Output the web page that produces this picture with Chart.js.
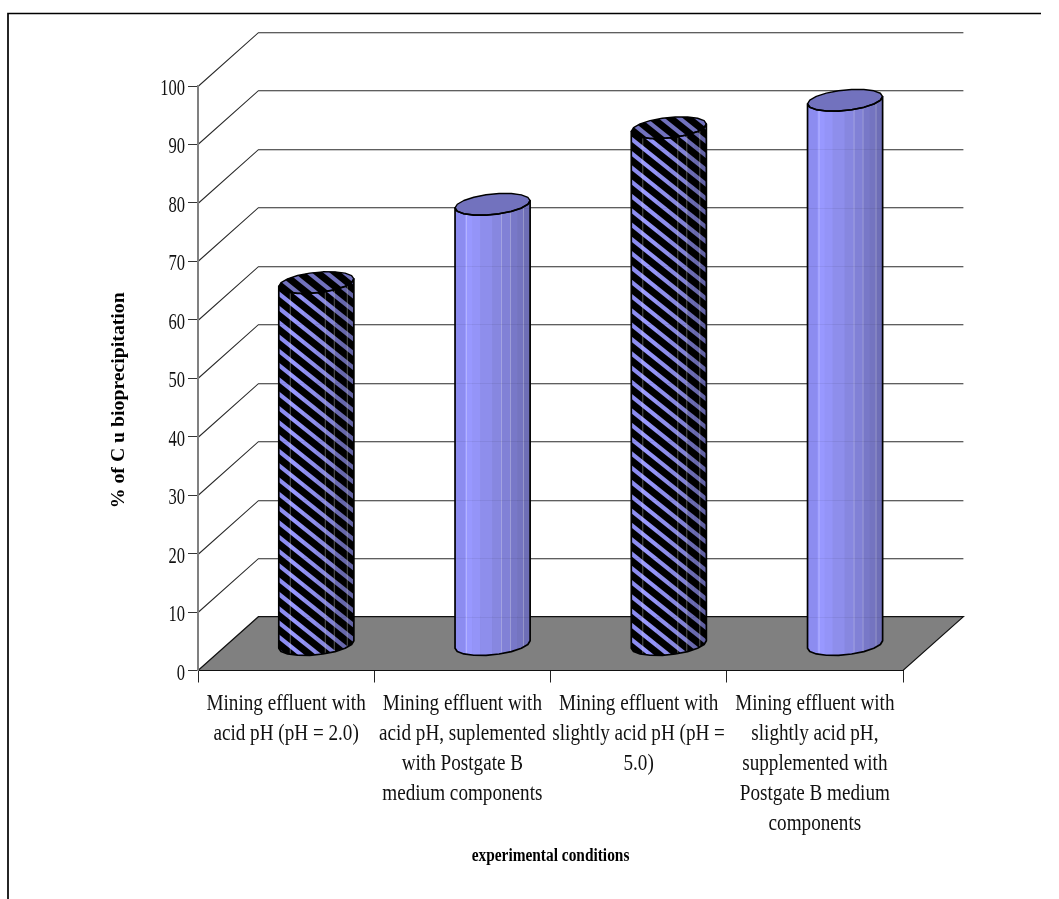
<!DOCTYPE html>
<html>
<head>
<meta charset="utf-8">
<title>Cu bioprecipitation</title>
<script src="https://cdn.jsdelivr.net/npm/chart.js@4"></script>
<style>
html,body{margin:0;padding:0;background:#fff}
canvas{display:block}
</style>
</head>
<body>
<canvas id="chart" width="1059" height="899"></canvas>
<script>
// Experimental conditions and the percentage of copper removed under each
const categories = [
  ["Mining effluent with", "acid pH (pH = 2.0)"],
  ["Mining effluent with", "acid pH, suplemented", "with Postgate B", "medium components"],
  ["Mining effluent with", "slightly acid pH (pH =", "5.0)"],
  ["Mining effluent with", "slightly acid pH,", "supplemented with", "Postgate B medium", "components"]
];
const copperPercent = [62, 75.4, 88.5, 93.2];
const hatched = [true, false, true, false];

const yAxisTitle = "% of C u bioprecipitation";
const xAxisTitle = "experimental conditions";

// Oblique projection of the chart box
const DEPTH_X = 60.4;
const DEPTH_Y = 53.8;
const BAR_SHIFT_X = DEPTH_X / 2;
const BAR_SHIFT_Y = 25.5;

// Cylinder rim: a sheared ellipse traced as a many-sided polygon
const RIM_TILT = 3.7;
const RIM_MINOR = 10.3;
const RIM_SIDES = 18;

// Shaded facets round the cylinder: start offset from its left edge, colour
const FACETS = [[0, "#8C8CF0"], [10, "#9898FF"], [17, "#9494F8"], [25, "#8E8EEC"], [37, "#8787E0"],
                [46, "#8181D6"], [55, "#7878C8"], [62, "#7474C0"], [68, "#6E6EB6"]];
const FACET_EDGES = [11, 46, 55, 68];
const CAP_COLOUR = "#7272BE";
const HATCH_PITCH = 14.3;
const HATCH_DARK = 9;
const HATCH_SLOPE = 0.8;

const canvas = document.getElementById("chart");
const ctx = canvas.getContext("2d");

// Text in this figure is set in a narrowed face; draw every label through one stretch transform
const LABEL_STRETCH = 0.833;
const NUMBER_STRETCH = 0.72;
const NUMBER_DROP = 3;
const TEXT_TWEAKS = {
  [yAxisTitle]: { sx: 1.04, dx: -22, dy: 0 },
  [xAxisTitle]: { sx: 0.855, dx: 0, dy: 0 }
};
const plainFillText = ctx.fillText.bind(ctx);
ctx.fillText = function (text, x, y) {
  const isNumber = /^\d+$/.test(text);
  const tweak = TEXT_TWEAKS[text] || (isNumber
    ? { sx: NUMBER_STRETCH, dx: 0, dy: NUMBER_DROP }
    : { sx: LABEL_STRETCH, dx: 0, dy: 0 });
  ctx.save();
  ctx.translate(x + tweak.dx, y + tweak.dy);
  ctx.scale(tweak.sx, 1);
  plainFillText(text, 0, 0);
  ctx.restore();
};

function line(c, pts, colour, width) {
  c.beginPath();
  pts.forEach((p, i) => (i ? c.lineTo(p[0], p[1]) : c.moveTo(p[0], p[1])));
  c.strokeStyle = colour;
  c.lineWidth = width;
  c.stroke();
}

// Outer frame, floor and the back/side wall lines
const boxPlugin = {
  id: "box",
  beforeDraw(chart) {
    const c = chart.ctx, y = chart.scales.y, x = chart.scales.x;
    const L = x.left, R = x.right, B = y.getPixelForValue(0);

    line(c, [[8, 899], [8, 13.5], [1041, 13.5]], "#000", 1.7);

    c.beginPath();
    c.moveTo(L, B);
    c.lineTo(L + DEPTH_X, B - DEPTH_Y);
    c.lineTo(R + DEPTH_X, B - DEPTH_Y);
    c.lineTo(R, B);
    c.closePath();
    c.fillStyle = "#808080";
    c.fill();
    c.strokeStyle = "#111";
    c.lineWidth = 1.2;
    c.stroke();

    y.ticks.forEach(t => {
      if (t.value === 0) return;
      const py = Math.round(y.getPixelForValue(t.value)) + 0.5;
      line(c, [[L, py], [L + DEPTH_X, py - DEPTH_Y], [R + DEPTH_X, py - DEPTH_Y]], "#2a2a2a", 1.1);
    });
  }
};

function rimPoint(cx, cy, half, angle) {
  return [cx + half * Math.cos(angle), cy - RIM_TILT * Math.cos(angle) + RIM_MINOR * Math.sin(angle)];
}

function hatch(c, left, right, top, bottom) {
  c.fillStyle = "#000";
  const span = right - left;
  for (let y = top - span * HATCH_SLOPE - HATCH_PITCH; y < bottom + HATCH_PITCH; y += HATCH_PITCH) {
    c.beginPath();
    c.moveTo(left, y);
    c.lineTo(right, y + span * HATCH_SLOPE);
    c.lineTo(right, y + span * HATCH_SLOPE + HATCH_DARK);
    c.lineTo(left, y + HATCH_DARK);
    c.closePath();
    c.fill();
  }
}

// Cylinders take position and height from the bar elements the library laid out
const cylinderPlugin = {
  id: "cylinders",
  afterDatasetsDraw(chart) {
    const c = chart.ctx, yScale = chart.scales.y;
    chart.getDatasetMeta(0).data.forEach((bar, i) => {
      const half = bar.width / 2;
      const cx = bar.x + BAR_SHIFT_X;
      const topY = bar.y - BAR_SHIFT_Y;
      const baseY = bar.base - BAR_SHIFT_Y;
      const left = cx - half, right = cx + half;

      const body = () => {
        c.beginPath();
        c.moveTo(left, topY + RIM_TILT);
        for (let k = RIM_SIDES / 2; k >= 0; k--) {
          const p = rimPoint(cx, baseY, half, (k / RIM_SIDES) * 2 * Math.PI);
          c.lineTo(p[0], p[1]);
        }
        for (let k = 0; k <= RIM_SIDES / 2; k++) {
          const p = rimPoint(cx, topY, half, (k / RIM_SIDES) * 2 * Math.PI);
          c.lineTo(p[0], p[1]);
        }
        c.closePath();
      };
      const cap = () => {
        c.beginPath();
        for (let k = 0; k < RIM_SIDES; k++) {
          const p = rimPoint(cx, topY, half, (k / RIM_SIDES) * 2 * Math.PI);
          k ? c.lineTo(p[0], p[1]) : c.moveTo(p[0], p[1]);
        }
        c.closePath();
      };

      c.save();
      body();
      c.clip();
      FACETS.forEach((f, k) => {
        const next = k + 1 < FACETS.length ? FACETS[k + 1][0] : bar.width;
        c.fillStyle = f[1];
        c.fillRect(left + f[0], topY - 12, next - f[0] + 0.5, baseY - topY + 30);
      });
      if (hatched[i]) {
        c.fillStyle = "rgba(0,0,0,0.1)";
        c.fillRect(left + 55, topY - 12, bar.width - 55, baseY - topY + 30);
        hatch(c, left, right, topY - 12, baseY + 14);
      }
      FACET_EDGES.forEach(e => {
        line(c, [[left + e + 0.5, topY - 12], [left + e + 0.5, baseY + 14]],
             hatched[i] ? "rgba(205,205,205,0.42)" : "rgba(255,255,255,0.28)", 1);
      });
      // The wall rules show faintly through the cylinder
      yScale.ticks.forEach(t => {
        const py = Math.round(yScale.getPixelForValue(t.value) - DEPTH_Y) + 0.5;
        if (py > topY && py < baseY) line(c, [[left, py], [right, py]], "rgba(0,0,0,0.06)", 1);
      });
      c.restore();

      c.save();
      cap();
      c.fillStyle = CAP_COLOUR;
      c.fill();
      if (hatched[i]) {
        c.clip();
        hatch(c, left, right, topY - 14, topY + 14);
      }
      c.restore();

      c.lineJoin = "round";
      body();
      c.strokeStyle = "#000";
      c.lineWidth = 1.7;
      c.stroke();
      cap();
      c.lineWidth = 1.4;
      c.stroke();
    });
  }
};

const SERIF = "'Liberation Serif', 'Times New Roman', serif";

new Chart(ctx, {
  type: "bar",
  data: {
    labels: categories,
    datasets: [{
      data: copperPercent,
      backgroundColor: "transparent",
      borderWidth: 0,
      barPercentage: 0.426,
      categoryPercentage: 1
    }]
  },
  plugins: [boxPlugin, cylinderPlugin],
  options: {
    responsive: false,
    animation: false,
    layout: { padding: { left: 0, top: 86, right: 156, bottom: 0 } },
    plugins: { legend: { display: false }, tooltip: { enabled: false } },
    scales: {
      x: {
        offset: true,
        afterFit(scale) { scale.height = 228.5; },
        grid: { offset: true, drawOnChartArea: false, drawTicks: true, tickLength: 12, color: "#222", lineWidth: 1 },
        border: { color: "#111", width: 1 },
        ticks: {
          color: "#111",
          maxRotation: 0,
          minRotation: 0,
          autoSkip: false,
          padding: 7,
          font: { family: SERIF, size: 23, lineHeight: 1.3 }
        },
        title: {
          display: true,
          text: xAxisTitle,
          color: "#000",
          padding: { top: 0, bottom: 32 },
          font: { family: SERIF, size: 18, weight: "bold", lineHeight: 1.2 }
        }
      },
      y: {
        min: 0,
        max: 100,
        afterFit(scale) { scale.width = 198; },
        grid: { drawOnChartArea: false, drawTicks: true, tickLength: 10, color: "#333", lineWidth: 1 },
        border: { color: "#808080", width: 2 },
        ticks: {
          stepSize: 10,
          color: "#111",
          padding: 3,
          font: { family: SERIF, size: 23 }
        },
        title: {
          display: true,
          text: yAxisTitle,
          color: "#000",
          padding: { top: 108, bottom: 0 },
          font: { family: SERIF, size: 19, weight: "bold", lineHeight: 1.2 }
        }
      }
    }
  }
});
</script>
</body>
</html>
